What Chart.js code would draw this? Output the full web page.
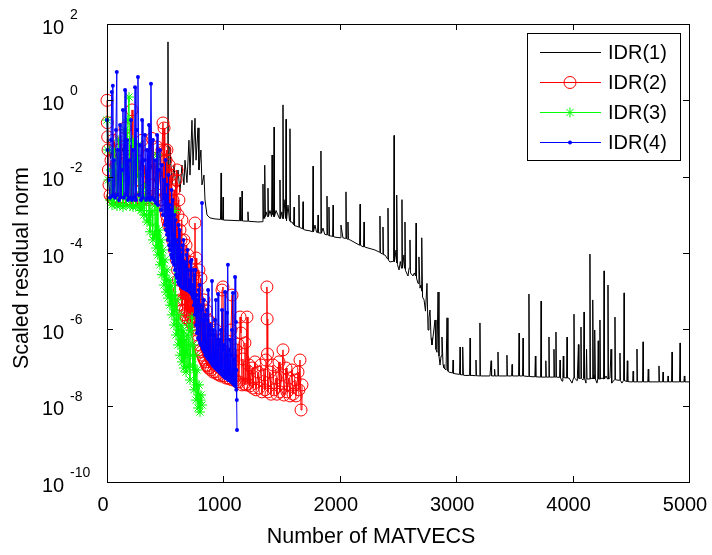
<!DOCTYPE html>
<html>
<head>
<meta charset="utf-8">
<script src="https://cdn.jsdelivr.net/npm/chart.js"></script>
<style>
  html, body { margin: 0; padding: 0; background: #fff; }
  #caixa { width: 712px; height: 555px; }
</style>
</head>
<body>
<div id="caixa"><canvas id="graficoIDR" width="712" height="555"></canvas></div>
<script>
const seriesNames = ['IDR(1)', 'IDR(2)', 'IDR(3)', 'IDR(4)'];
const xTicks = [0, 1000, 2000, 3000, 4000, 5000];
const yTickExps = [2, 0, -2, -4, -6, -8, -10];
const xTitle = 'Number of MATVECS';
const yTitle = 'Scaled residual norm';

// [matvecs, scaled residual norm]
const idr1 = [
  [0,1.0],[10,0.1],[30,0.03],[60,0.08],[100,0.02],[140,0.06],[180,0.015],[220,0.04],[260,0.01],[300,0.03],
  [340,0.008],[380,0.02],[420,0.006],[460,0.015],[500,0.005],[520,0.01],[524,34],[527,2.5e-4],[533,0.02],
  [541,0.06],[558,0.0061],[576,0.02],[593,0.0045],[610,0.015],[627,0.004],[644,0.02],[661,0.0061],[670,0.027],
  [687,0.007],[704,0.09],[713,0.011],[730,0.3],[739,0.02],[756,0.34],[765,0.027],[782,0.19],[790,0.015],
  [807,0.05],[816,0.0061],[833,0.011],[842,0.00245],[859,9.9e-4],[885,8.3e-4],
  [928,7.8e-4],[975,7.6e-4],[980,0.0125],[984,7.5e-4],[993,7.4e-4],[997,0.0029],[1001,7.3e-4],[1100,7.1e-4],
  [1139,7.0e-4],[1143,0.0029],[1147,7.0e-4],[1156,7.0e-4],[1160,0.0042],[1164,6.9e-4],[1207,6.8e-4],[1211,0.0012],
  [1215,6.8e-4],[1297,6.5e-4],
  [1336,6.6e-4],[1340,0.0064],[1344,8e-4],[1349,9.9e-4],[1353,8e-4],[1357,0.02],[1361,9e-4],[1366,0.0012],
  [1379,9e-4],[1383,0.005],[1387,9e-4],[1400,0.0013],[1414,9e-4],[1418,0.037],[1422,1.0e-3],[1426,0.0018],
  [1431,9e-4],[1435,0.2],[1439,9e-4],[1452,0.0013],[1482,8e-4],[1486,0.0082],[1490,8e-4],[1503,0.0012],
  [1508,8e-4],[1512,0.76],[1516,8e-4],[1529,0.0025],[1534,8e-4],[1538,0.32],[1542,7e-4],[1555,0.0018],
  [1568,7e-4],[1572,0.18],[1576,6.5e-4],[1589,6.5e-4],[1603,5.5e-4],[1607,0.0016],[1611,5.2e-4],[1624,5.1e-4],
  [1645,4.8e-4],[1649,0.0033],[1653,4.7e-4],[1667,4.5e-4],[1680,4.3e-4],[1684,0.0022],[1688,4.2e-4],[1701,4.0e-4],
  [1744,3.8e-4],[1766,3.6e-4],[1770,0.019],[1774,3.6e-4],[1787,5.4e-4],[1800,3.5e-4],[1809,3.4e-4],[1813,9.9e-4],
  [1817,3.4e-4],[1834,3.3e-4],[1838,0.047],[1842,3.3e-4],[1856,4.5e-4],[1870,3.1e-4],[1886,3.0e-4],[1890,0.0031],
  [1894,3.0e-4],[1903,2.9e-4],[1907,0.0016],[1911,2.8e-4],[1924,2.8e-4],[1938,2.7e-4],[1942,0.0018],[1946,2.7e-4],
  [1959,2.6e-4],[2006,2.5e-4],[2010,5.4e-4],[2027,2.5e-4],[2049,2.4e-4],[2053,0.004],[2057,2.4e-4],[2066,2.3e-4],
  [2070,6.5e-4],[2074,2.3e-4],[2088,2.2e-4],[2170,1.6e-4],[2174,0.0019],[2178,1.6e-4],[2191,1.5e-4],[2204,1.45e-4],
  [2208,6.5e-4],[2212,1.45e-4],[2225,1.4e-4],[2302,1.2e-4],[2341,1.05e-4],[2345,9.3e-4],[2349,1.0e-4],[2367,9.5e-5],
  [2371,4.8e-4],[2375,9e-5],[2388,8.9e-5],[2410,7e-5],[2414,0.0015],[2418,6.5e-5],[2431,5.8e-5],[2449,6e-5],
  [2462,6e-5],[2466,0.12],[2470,6e-5],[2483,1.2e-4],[2487,5.5e-5],[2491,0.0033],[2495,5e-5],[2509,3.6e-5],
  [2520,6e-5],[2530,4e-5],[2534,0.0025],[2538,4e-5],[2551,8.9e-5],[2556,4e-5],[2560,6.5e-4],[2564,3.5e-5],
  [2586,2.5e-5],[2595,4e-5],[2603,2.2e-4],[2607,3e-5],[2629,2.5e-5],[2640,3e-5],[2651,2.5e-5],[2655,6.1e-4],
  [2659,2.2e-5],[2672,1.6e-5],[2680,7.9e-5],[2689,1.2e-5],[2698,1.45e-5],[2702,1.0e-5],[2706,2.5e-4],[2711,7e-6],
  [2724,5.9e-6],[2736,3e-6],[2749,1.6e-5],[2758,9.6e-7],[2766,2e-6],[2775,3.2e-6],[2784,6e-7],[2792,3.9e-7],
  [2805,8e-7],[2818,1.76e-6],[2826,3e-7],[2835,2.5e-7],[2844,9.5e-6],[2852,2e-7],[2861,1.16e-7],[2870,2e-7],
  [2878,6.3e-7],[2887,1.2e-7],[2895,9.7e-8],[2913,8.6e-8],[2921,2.0e-6],[2929,8e-8],[2938,7.6e-8],[2969,7.2e-8],
  [2973,1.57e-7],[2977,7.0e-8],[2998,6.8e-8],[3029,6.6e-8],[3033,3.45e-7],[3037,6.5e-8],[3050,6.4e-8],[3054,6.4e-8],
  [3058,3.45e-7],[3062,6.3e-8],[3076,6.2e-8],[3115,6.2e-8],[3119,5.9e-7],[3123,6.2e-8],[3136,6.2e-8],[3166,6.1e-8],
  [3170,1.57e-7],[3174,6.1e-8],[3200,6.0e-8],[3204,1.47e-6],[3208,6.0e-8],[3290,6.0e-8],[3300,1.5e-7],[3304,6.0e-8],
  [3326,6.0e-8],[3330,9e-8],[3334,6.0e-8],[3355,6.0e-8],[3359,2.55e-7],[3363,6.0e-8],[3432,6.0e-8],[3436,2.1e-7],
  [3440,6.0e-8],[3476,6.0e-8],[3480,1.2e-7],[3484,6.0e-8],[3505,6.0e-8],[3536,6.0e-8],[3540,8.0e-7],[3544,6.0e-8],
  [3570,6.0e-8],[3574,5.9e-7],[3578,6.0e-8],[3621,5.8e-8],[3625,8.4e-6],[3629,5.8e-8],[3676,5.7e-8],[3680,2e-7],
  [3684,5.7e-8],[3725,5.6e-8],[3729,5.5e-6],[3733,5.6e-8],[3766,5.6e-8],[3770,1.5e-7],[3774,5.6e-8],[3793,5.6e-8],
  [3797,6.3e-7],[3801,5.6e-8],[3836,5.6e-8],[3840,3e-7],[3844,5.6e-8],[3853,5.6e-8],[3857,8.5e-7],[3861,5.6e-8],
  [3888,5.5e-8],[3892,1.57e-7],[3896,5.4e-8],[3909,4.4e-8],[3916,5.4e-8],[3920,2e-7],[3924,5.4e-8],[3930,5.4e-8],
  [3948,5.3e-8],[3952,6.3e-7],[3956,5.3e-8],[3969,5.3e-8],[3995,3.9e-8],[4008,5.3e-8],[4012,2.5e-6],[4016,5.3e-8],
  [4040,4.5e-8],[4050,4e-7],[4054,5.2e-8],[4068,5.2e-8],[4072,1.15e-6],[4076,5.2e-8],[4089,4.7e-8],[4094,5.2e-8],
  [4098,2.85e-6],[4102,5.2e-8],[4115,3.9e-8],[4120,3e-7],[4124,5.0e-8],[4130,5.0e-8],[4145,5.0e-8],[4149,9.4e-5],
  [4153,5.0e-8],[4167,5.3e-8],[4171,5.0e-8],[4175,5.9e-6],[4179,5.0e-8],[4184,6.4e-8],[4188,5.0e-8],[4192,9.6e-7],
  [4196,5.0e-8],[4209,3.9e-8],[4216,5.0e-8],[4220,5e-7],[4224,5.0e-8],[4231,5.0e-8],[4235,1.76e-6],[4239,5.0e-8],
  [4253,5.3e-8],[4266,5.0e-8],[4270,3.4e-5],[4274,5.0e-8],[4287,6.0e-8],[4300,5.0e-8],[4304,1.45e-5],[4308,5.0e-8],
  [4321,5.3e-8],[4330,3e-7],[4334,4.8e-8],[4338,3.9e-8],[4360,4.8e-8],[4364,2.1e-6],[4368,4.8e-8],[4381,4.7e-8],
  [4403,4.6e-8],[4407,2.4e-7],[4411,4.6e-8],[4424,3.9e-8],[4438,4.6e-8],[4442,9.0e-6],[4446,4.5e-8],[4459,4.4e-8],
  [4466,4.3e-8],[4470,1.5e-7],[4474,4.3e-8],[4493,4.2e-8],[4516,4.2e-8],[4520,8e-8],[4524,4.2e-8],[4549,4.2e-8],
  [4553,3.05e-7],[4557,4.2e-8],[4601,4.2e-8],[4605,4.7e-7],[4609,4.2e-8],[4646,4.2e-8],[4650,9e-8],[4654,4.2e-8],
  [4708,4.2e-8],[4738,4.2e-8],[4742,1.1e-7],[4746,4.2e-8],[4773,4.2e-8],[4777,7.6e-8],[4781,4.2e-8],[4816,4.2e-8],
  [4820,6e-8],[4824,4.2e-8],[4850,4.2e-8],[4854,2.55e-7],[4858,4.2e-8],[4919,4.2e-8],[4923,4.4e-7],[4927,4.2e-8],
  [4956,4.2e-8],[4960,6e-8],[4964,4.2e-8],[5000,4.2e-8]
];

const idr2 = [
  [0,1.0],[3,0.26],[6,0.11],[9,0.05],[12,0.015],[17,0.0061],[26,0.0033],[34,0.027],[43,0.0028],[52,0.09],
  [60,0.0025],[77,0.015],[86,0.0026],[103,0.05],[112,0.0025],[120,0.12],[129,0.0028],[146,0.011],[155,0.19],
  [163,0.0025],[180,0.027],[189,0.0026],[198,0.068],[206,0.0025],[215,0.56],[223,0.0045],[241,0.02],[249,0.0025],
  [266,0.05],[275,0.0028],[283,0.0082],[301,0.09],[309,0.0025],[326,0.02],[335,0.0028],[352,0.037],[361,0.0025],
  [369,0.0061],[387,0.10],[395,0.0028],[412,0.027],[421,0.0025],[430,0.06],[438,0.0033],[455,0.015],[464,0.0025],
  [472,0.05],
  [481,0.255],[485,0.00245],[490,0.188],[494,0.0018],[498,0.05],[503,0.00134],[507,0.0274],[511,9.9e-4],
  [515,0.05],[520,7.3e-4],[524,0.0111],[528,5.4e-4],[533,0.0202],[537,6.5e-4],[541,0.0045],[546,4.5e-4],
  [550,0.0111],[554,4.0e-4],[558,0.0061],[563,2.2e-4],[567,0.00245],[571,3.0e-4],[576,0.0045],[580,1.2e-4],
  [584,0.00134],[589,1.6e-4],[593,0.0082],[597,6.6e-5],[601,0.015],[606,3.6e-5],[610,9.9e-4],[614,1.96e-5],
  [618,0.00245],[623,1.07e-5],[627,4.0e-4],[631,5.9e-6],[636,2.2e-4],[640,4.3e-6],[644,7.3e-4],[649,3.2e-6],
  [653,8.9e-5],[657,5.9e-6],[661,2.2e-4],[666,2.4e-6],[670,6.6e-5],[674,3.2e-6],[679,1.6e-4],[683,2.0e-6],
  [687,2.65e-5],[692,2.85e-6],[696,8.9e-5],[700,1.76e-6],[704,1.96e-5],[709,2.4e-6],[713,5.8e-5],[717,1.56e-6],
  [722,1.45e-5],[726,2.0e-6],[730,3.6e-5],[735,1.3e-6],[739,1.07e-5],[743,1.76e-6],[747,2.65e-5],[752,1.09e-6],
  [756,6.1e-4],[760,1.3e-6],[765,7.4e-5],[769,9.6e-7],[773,1.07e-5],[778,7.1e-7],[782,5.9e-6],[786,5.3e-7],
  [790,3.6e-5],[795,3.9e-7],[799,3.2e-6],[803,2.9e-7],[807,2.2e-5],[812,2.55e-7],[816,4.3e-6],[820,2.1e-7],
  [825,1.76e-6],[829,1.78e-7],[833,5.9e-6],[838,1.57e-7],[842,9.6e-7],[846,1.4e-7],[850,3.2e-6],[855,1.16e-7],
  [859,7.1e-7],[863,1.1e-7],[868,1.76e-6],[872,9.7e-8],[876,5.3e-7],[881,9.7e-8],[885,1.56e-6],[893,8.6e-8],
  [902,5.3e-7],[911,7.6e-8],[919,3.9e-7],[928,7.6e-8],[936,9.6e-7],[945,6.8e-8],[954,2.9e-7],[962,6.4e-8],
  [971,5.3e-7],[979,6.0e-8],[988,1.07e-5],[996,1.29e-5],[1005,6.0e-8],[1014,2.1e-7],[1022,5.3e-8],[1031,3.9e-7],
  [1039,5.3e-8],[1048,1.57e-7],[1057,5.0e-8],[1065,9.6e-7],[1074,7.9e-6],[1082,4.7e-8],[1091,1.57e-7],[1100,4.7e-8],
  [1108,2.9e-7],[1117,4.2e-8],[1125,4.1e-7],[1134,4.2e-8],[1143,2.1e-6],[1151,8.0e-7],[1160,3.5e-8],[1168,1.67e-7],
  [1177,3.7e-8],[1185,4.4e-7],[1194,3.5e-8],[1203,2.1e-6],[1211,3.7e-8],[1220,1.16e-7],[1228,3.3e-8],[1246,9.7e-8],
  [1254,2.9e-8],[1271,1.4e-7],[1280,2.6e-8],[1297,7.6e-8],[1306,2.9e-8],[1323,1.16e-7],[1331,2.3e-8],[1349,6.4e-8],
  [1357,2.6e-8],[1366,1.57e-7],[1374,1.29e-5],[1376,1.87e-6],[1379,2.26e-7],[1383,2.3e-8],[1400,7.6e-8],[1409,2.0e-8],
  [1426,1.16e-7],[1435,2.6e-8],[1452,5.3e-8],[1460,2.0e-8],[1478,1.4e-7],[1486,2.3e-8],[1503,6.4e-8],[1512,2.9e-7],
  [1520,1.9e-8],[1538,9.7e-8],[1546,2.3e-8],[1563,5.3e-8],[1572,1.8e-8],[1589,8.6e-8],[1598,2.0e-8],[1615,4.7e-8],
  [1624,1.8e-8],[1641,7.6e-8],[1649,2.6e-8],[1658,1.57e-7],[1667,7.7e-9],[1675,3.5e-8]
];

const idr3 = [
  [0,0.305],[5,0.05],[12,0.0082],[26,0.00245],[34,0.015],[43,0.0018],[52,0.05],[60,0.002],[77,0.027],[86,0.0017],
  [103,0.091],[112,0.0018],[129,0.02],[137,0.0016],[155,0.167],[163,0.0018],[180,0.305],[189,1.22],[198,0.0017],
  [215,0.091],[223,0.0016],[241,0.027],[249,0.0017],[266,0.068],[275,0.0015],[283,0.011],[288,0.0033],[292,0.0013],
  [305,0.0018],[309,0.0045],[318,9.9e-4],[322,0.00245],[335,0.0061],[339,9.9e-4],[344,6.5e-4],[357,7.3e-4],
  [361,0.00245],[369,3.6e-4],[374,9.9e-4],[387,0.0013],[391,5.4e-4],[395,2.2e-4],[408,3.0e-4],[412,0.0018],
  [421,1.35e-4],[425,3.0e-4],[430,0.037],[438,8.9e-5],[443,1.6e-4],[447,4.0e-4],[455,4.9e-5],[460,8.9e-5],
  [464,2.2e-4],[472,2.7e-5],[477,5.8e-5],[481,1.2e-4],[490,1.45e-5],[494,2.65e-5],[498,6.6e-5],[507,9.5e-6],
  [511,1.96e-5],[515,3.6e-5],[524,6.6e-6],[528,1.07e-5],[533,1.96e-5],[541,4.3e-6],[546,7.9e-6],[550,1.45e-5],
  [558,2.4e-6],[563,4.3e-6],[567,7.9e-6],[576,1.3e-6],[580,3.2e-6],[584,0.0013],[593,7.1e-7],[597,1.76e-6],
  [601,5.9e-6],[610,3.9e-7],[614,9.6e-7],[618,2.4e-6],[627,2.1e-7],[631,5.3e-7],[636,1.3e-6],[644,1.4e-7],
  [649,3.9e-7],[653,9.6e-7],[661,9.7e-8],[666,2.1e-7],[670,5.3e-7],[679,7.6e-8],[683,2.9e-7],[687,7.1e-7],
  [696,1.03e-7],[700,3.9e-7],[704,1.3e-6],[713,4.7e-8],[717,2.1e-7],[722,9.6e-7],[730,2.1e-6],[735,1.16e-7],
  [739,3.9e-7],[747,2.6e-8],[752,8.6e-8],[756,2.1e-7],[765,1.4e-8],[769,3.5e-8],[773,8.6e-8],[782,8.7e-9],
  [786,1.9e-8],[790,3.5e-8],[799,6.8e-9],[803,1.4e-8],[807,1.9e-8],[816,1.04e-8]
];

const idr4 = [
  [0,0.305],[5,0.05],[14,0.0082],[26,0.0028],[34,0.091],[41,1.65],[45,0.0031],[50,2.4],[54,0.0033],[60,0.027],
  [69,0.0028],[77,0.167],[84,5.5],[88,0.0033],[94,0.05],[103,0.00245],[112,0.226],[120,0.0029],[129,0.015],
  [137,0.56],[146,0.0028],[155,1.87],[163,0.0033],[172,0.091],[180,0.00245],[189,0.027],[198,0.0028],[206,0.305],
  [215,0.00245],[223,0.05],[232,0.0029],[241,2.2],[249,0.00245],[258,0.167],[266,4.1],[275,0.0033],[283,0.0676],
  [292,0.00245],[301,0.305],[309,0.0028],[318,0.027],[326,0.124],[335,0.00245],[344,0.05],[352,0.0028],[361,0.226],
  [369,0.00245],[378,2.7],[387,0.0028],[395,0.091],[404,0.00245],[412,0.027],[421,0.00204],[430,0.124],[438,0.0018],
  [447,0.015],[455,0.05],[464,0.00134],[472,0.0202],[481,9.9e-4],[490,0.0082],
  [498,5.4e-4],[503,0.0274],[507,4.0e-4],[511,0.0033],[515,3.0e-4],[520,0.0061],[524,2.2e-4],[528,0.0111],
  [533,1.6e-4],[537,0.00181],[541,1.2e-4],[546,0.00134],[550,8.9e-5],[554,0.0045],[558,7.4e-5],[563,0.00245],
  [567,5.8e-5],[571,3.0e-4],[576,4.9e-5],[580,9.9e-4],[584,3.6e-5],[589,7.3e-4],[593,2.65e-5],[597,2.2e-4],
  [601,2.2e-5],[606,1.6e-4],[610,1.74e-5],[614,5.4e-4],[618,1.54e-5],[623,4.0e-4],[627,1.45e-5],[631,1.2e-4],
  [636,1.37e-5],[640,8.9e-5],[644,1.29e-5],[649,1.6e-4],[653,1.21e-5],[657,2.2e-4],[661,1.21e-5],[666,5.8e-5],
  [670,1.14e-5],[674,4.9e-5],[679,1.14e-5],[683,8.9e-5],[687,1.07e-5],[692,1.2e-4],[696,1.07e-5],[700,3.6e-5],
  [704,1.01e-5],[709,1.96e-5],[713,9.5e-6],[717,5.8e-5],[722,9.0e-6],[726,6.6e-5],[730,7.9e-6],[735,1.45e-5],
  [739,6.6e-6],[743,3.6e-5],[747,4.3e-6],[752,2.65e-5],[756,2.4e-6],[760,3.6e-5],[765,1.3e-6],[769,7.9e-6],
  [773,8.0e-7],[778,5.9e-6],[782,5.9e-7],[786,1.07e-5],[790,5.3e-7],[795,1.45e-5],[799,4.4e-7],[803,4.3e-6],
  [807,3.9e-7],[812,3.2e-6],[816,0.00204],[820,3.25e-7],[825,1.76e-6],[829,2.9e-7],[833,5.9e-6],[838,2.55e-7],
  [842,2.4e-6],[846,2.1e-7],[850,1.76e-6],[855,2.0e-7],[859,3.2e-6],[863,1.78e-7],[868,1.07e-5],[872,1.67e-7],
  [876,9.6e-7],[881,1.57e-7],[885,1.3e-6],[889,1.4e-7],[893,7.1e-7],[898,1.32e-7],[902,1.85e-5],[907,1.16e-7],
  [911,9.6e-7],[915,1.1e-7],[919,7.1e-7],[924,1.03e-7],[928,1.76e-6],[932,9.7e-8],[936,5.9e-6],[941,9.2e-8],
  [945,5.3e-7],[949,8.6e-8],[954,8.4e-6],[958,8.1e-8],[962,3.9e-7],[967,7.6e-8],[971,5.3e-7],[975,7.2e-8],
  [979,9.6e-7],[984,6.8e-8],[988,3.2e-6],[992,6.4e-8],[996,2.9e-7],[1001,6.0e-8],[1005,3.9e-7],[1009,5.6e-8],
  [1014,9.5e-6],[1018,5.3e-8],[1022,2.1e-7],[1027,5.3e-8],[1031,2.7e-6],[1035,5.0e-8],[1039,4.9e-5],[1044,4.7e-8],
  [1048,2.9e-7],[1052,4.7e-8],[1057,5.3e-7],[1061,4.4e-8],[1065,2.1e-7],[1070,4.2e-8],[1074,9.6e-7],[1078,3.9e-8],
  [1082,9.0e-6],[1087,3.7e-8],[1091,1.57e-7],[1095,3.5e-8],[1100,2.35e-5],[1104,3.3e-8],[1108,1.56e-6],[1111,2.6e-8],
  [1113,8.6e-8],[1115,1.4e-8],[1117,2.3e-9]
];

const fonte = '"Liberation Sans", Arial, Helvetica, sans-serif';
const pontos = arr => arr.map(p => ({ x: p[0], y: p[1] }));

function marcador(ctx, ds, x, y) {
  const r = ds.pointRadius;
  if (!r) return;
  ctx.save();
  ctx.strokeStyle = ds.pointBorderColor || ds.borderColor;
  ctx.fillStyle = ds.pointBackgroundColor;
  ctx.lineWidth = 1;
  ctx.beginPath();
  if (ds.pointStyle === 'star') {
    for (let k = 0; k < 4; k++) {
      const ang = k * Math.PI / 4;
      ctx.moveTo(x - r * Math.cos(ang), y - r * Math.sin(ang));
      ctx.lineTo(x + r * Math.cos(ang), y + r * Math.sin(ang));
    }
    ctx.stroke();
  } else {
    ctx.arc(x, y, r, 0, 2 * Math.PI);
    if (ds.pointBackgroundColor !== 'rgba(0,0,0,0)') ctx.fill();
    if (ds.pointBorderWidth) ctx.stroke();
  }
  ctx.restore();
}

// box, inward ticks, 10^n labels, axis titles and the boxed legend
const moldura = {
  id: 'moldura',
  afterDraw(chart) {
    const ctx = chart.ctx;
    const a = chart.chartArea;
    const sx = chart.scales.x, sy = chart.scales.y;
    ctx.save();
    ctx.strokeStyle = '#000';
    ctx.lineWidth = 1;
    ctx.strokeRect(a.left + 0.5, a.top + 0.5, a.right - a.left, a.bottom - a.top);
    ctx.beginPath();
    xTicks.forEach(v => {
      const px = Math.round(sx.getPixelForValue(v)) + 0.5;
      ctx.moveTo(px, a.bottom); ctx.lineTo(px, a.bottom - 6);
      ctx.moveTo(px, a.top); ctx.lineTo(px, a.top + 6);
    });
    yTickExps.forEach(e => {
      const py = Math.round(sy.getPixelForValue(Math.pow(10, e))) + 0.5;
      ctx.moveTo(a.left, py); ctx.lineTo(a.left + 6, py);
      ctx.moveTo(a.right, py); ctx.lineTo(a.right - 6, py);
    });
    ctx.stroke();

    ctx.fillStyle = '#000';
    ctx.textAlign = 'left';
    ctx.textBaseline = 'middle';
    yTickExps.forEach(e => {
      const py = sy.getPixelForValue(Math.pow(10, e));
      ctx.font = '20px ' + fonte;
      ctx.fillText('10', 42, py + 4);
      ctx.font = '14px ' + fonte;
      ctx.fillText(String(e), 70, py - 9);
    });

    ctx.font = '21.5px ' + fonte;
    ctx.textAlign = 'center';
    ctx.fillText(xTitle, 371, 537);
    ctx.save();
    ctx.translate(22, 268);
    ctx.rotate(-Math.PI / 2);
    ctx.fillText(yTitle, 0, 0);
    ctx.restore();

    const lx = a.right - 162, ly = a.top + 9, lw = 153, lh = 127;
    ctx.fillStyle = '#fff';
    ctx.fillRect(lx, ly, lw, lh);
    ctx.strokeStyle = '#000';
    ctx.strokeRect(lx + 0.5, ly + 0.5, lw, lh);
    ctx.textAlign = 'left';
    chart.data.datasets.forEach((ds, i) => {
      const y = ly + 19 + i * 30;
      ctx.strokeStyle = ds.borderColor;
      ctx.lineWidth = 1;
      ctx.beginPath();
      ctx.moveTo(lx + 13, y + 0.5);
      ctx.lineTo(lx + 74, y + 0.5);
      ctx.stroke();
      marcador(ctx, ds, lx + 43, y + 0.5);
      ctx.fillStyle = '#000';
      ctx.font = '20px ' + fonte;
      ctx.textBaseline = 'middle';
      ctx.fillText(ds.label, lx + 81, y + 1);
    });
    ctx.restore();
  }
};

const graficoIDR = document.getElementById('graficoIDR');

new Chart(graficoIDR, {
  type: 'line',
  data: {
    datasets: [{
      label: seriesNames[0],
      data: pontos(idr1),
      borderColor: '#000000',
      borderWidth: 1,
      pointRadius: 0,
      order: 4
    },
    {
      label: seriesNames[1],
      data: pontos(idr2),
      borderColor: '#ff0000',
      borderWidth: 1,
      pointStyle: 'circle',
      pointRadius: 6,
      pointBorderWidth: 1,
      pointBorderColor: '#ff0000',
      pointBackgroundColor: 'rgba(0,0,0,0)',
      clip: false,
      order: 3
    },
    {
      label: seriesNames[2],
      data: pontos(idr3),
      borderColor: '#00ff00',
      borderWidth: 1,
      pointStyle: 'star',
      pointRadius: 5,
      pointBorderWidth: 1,
      pointBorderColor: '#00ff00',
      pointBackgroundColor: 'rgba(0,0,0,0)',
      clip: false,
      order: 2
    },
    {
      label: seriesNames[3],
      data: pontos(idr4),
      borderColor: '#0000ff',
      borderWidth: 1,
      pointStyle: 'circle',
      pointRadius: 2,
      pointBorderWidth: 0,
      pointBackgroundColor: '#0000ff',
      clip: false,
      order: 1
    }]
  },
  options: {
    responsive: false,
    animation: false,
    events: [],
    layout: { padding: { top: 24, right: 23, left: 0, bottom: 0 } },
    elements: { line: { tension: 0 } },
    plugins: { legend: { display: false }, tooltip: { enabled: false } },
    scales: {
      x: {
        type: 'linear',
        min: 0,
        max: 5000,
        grid: { display: false, drawTicks: false },
        border: { display: false },
        ticks: {
          stepSize: 1000,
          autoSkip: false,
          maxRotation: 0,
          color: '#000',
          padding: 11,
          labelOffset: -4,
          font: { family: fonte, size: 20 },
          callback: v => String(v)
        },
        afterFit: s => { s.height = 73; s.paddingLeft = 0; s.paddingRight = 0; }
      },
      y: {
        type: 'logarithmic',
        min: 1e-10,
        max: 100,
        grid: { display: false, drawTicks: false },
        border: { display: false },
        ticks: { display: false },
        afterFit: s => { s.width = 107; s.paddingTop = 0; s.paddingBottom = 0; }
      }
    }
  },
  plugins: [moldura]
});
</script>
</body>
</html>
